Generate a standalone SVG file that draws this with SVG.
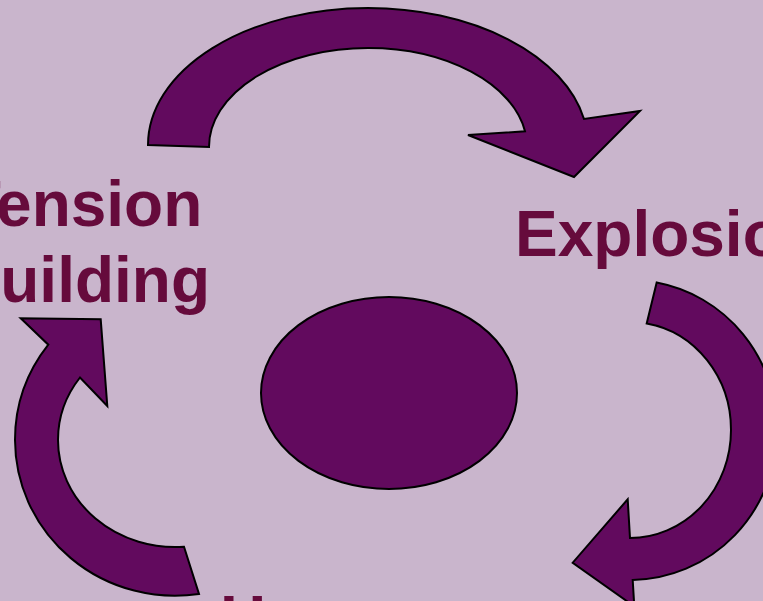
<svg xmlns="http://www.w3.org/2000/svg" width="763" height="601" viewBox="0 0 763 601">
<style>
.arrow{fill:#620A5E;stroke:#000;stroke-width:2;stroke-linejoin:miter}
.lbl{font-family:"Liberation Sans",Arial,sans-serif;font-weight:bold;font-size:64px;fill:#660B3C}
</style>
<rect width="763" height="601" fill="#C9B5CC"/>
<g id="connectors">
<path class="arrow" d="M148,145 A220,137 0 0 1 368,8 A220,137 0 0 1 584,119 L640,111 L574,177 L468,135 L525,131.3 A159,99 0 0 0 368,48 A159,99 0 0 0 209,147 Z"/>
<path class="arrow" d="M656.7,282.5 A147,150 0 0 1 777,430 A147,150 0 0 1 632.7,580 L634.3,606.4 L572.7,562.7 L627.7,499.3 L630,538 A101,108 0 0 0 731,430 A101,108 0 0 0 646.7,323.5 Z"/>
<path class="arrow" d="M199,594 A160,156 0 0 1 15,440 A160,156 0 0 1 48.3,344.7 L20.7,318.3 L100.7,319.3 L107.3,406 L80,377.5 A117,107 0 0 0 58,440 A117,107 0 0 0 184,546.7 Z"/>
</g>
<g id="center">
<ellipse cx="389" cy="393" rx="128" ry="96" class="arrow"/>
</g>
<g id="tension">
<text class="lbl" x="82" y="226" text-anchor="middle">Tension</text>
<text class="lbl" x="82" y="302" text-anchor="middle">Building</text>
</g>
<g id="explosion">
<text class="lbl" x="515" y="256">Explosion</text>
</g>
<g id="honeymoon">
<text class="lbl" x="220" y="641">Honeymoon</text>
</g>
</svg>
